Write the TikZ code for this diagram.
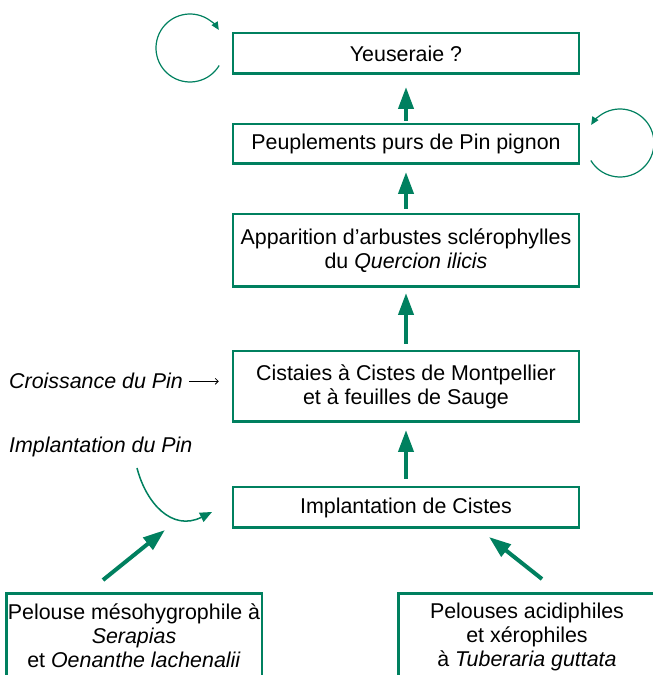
\documentclass[tikz,border=0pt]{standalone}
\usepackage{fontspec}
\setmainfont{Liberation Sans}
\usetikzlibrary{arrows.meta}
\definecolor{vert}{HTML}{00805F}
\begin{document}
\begin{tikzpicture}[x=1pt,y=1pt,
  box/.style={draw=vert, line width=2.5pt, minimum width=346, inner sep=0pt, align=center, font=\fontsize{21.4}{24}\selectfont},
  txt/.style={inner sep=0pt, align=center, font=\fontsize{21.4}{24}\selectfont},
  itxt/.style={inner sep=0pt, font=\fontsize{21.4}{24}\selectfont\itshape},
  bigarrow/.style={draw=vert, line width=4pt, -{Triangle[width=15pt,length=22pt]}},
  looparrow/.style={draw=vert, line width=1.2pt, -{Triangle[width=7pt,length=8pt]}},
  curvearrow/.style={draw=vert, line width=1.5pt, -{Triangle[width=10pt,length=12pt]}},
  thinarrow/.style={draw=black, line width=0.8pt, -{Straight Barb[length=3pt,width=6pt]}},
]
\useasboundingbox (0,0) rectangle (653,675);
% main chain
\node[box, minimum height=40.5] (yeu) at (406,621.5) {Yeuseraie ?};
\node[box, minimum height=39.5] (peu) at (406,531) {Peuplements purs de Pin pignon};
\node[box, minimum height=72.5] (app) at (406,424.5) {Apparition d’arbustes sclérophylles\\du \textit{Quercion ilicis}};
\node[box, minimum height=70.5] (cis) at (406,288.5) {Cistaies à Cistes de Montpellier\\et à feuilles de Sauge};
\node[box, minimum height=40.5] (imp) at (406,167.5) {Implantation de Cistes};
% bottom boxes
\node[box, minimum width=255.5, minimum height=100, anchor=north] (meso) at (134,82.75) {};
\node[txt] (mesot) at (134,39) {Pelouse mésohygrophile à\\\textit{Serapias}\\et \textit{Oenanthe lachenalii}};
\node[box, minimum width=257.5, minimum height=100, anchor=north] (acid) at (527,82.75) {};
\node[txt] (acidt) at (527,38) {Pelouses acidiphiles\\et xérophiles\\à \textit{Tuberaria guttata}};
% vertical arrows
\draw[bigarrow, shorten <=2pt, shorten >=12pt] (peu) -- (yeu);
\draw[bigarrow, shorten <=4pt, shorten >=7pt] (app) -- (peu);
\draw[bigarrow, shorten <=6pt, shorten >=5pt] (cis) -- (app);
\draw[bigarrow, shorten <=7pt, shorten >=7pt] (imp) -- (cis);
% diagonal arrows
\coordinate (m0) at (103,95);
\coordinate (m1) at (165,145);
\coordinate (a0) at (542,96);
\coordinate (a1) at (489,138);
\draw[bigarrow] (m0) -- (m1);
\draw[bigarrow] (a0) -- (a1);
% side labels
\node[itxt, anchor=base west] (cro) at (9,286) {Croissance du Pin};
\draw[thinarrow, shorten <=6pt, shorten >=13pt] (cro.east) -- (cro.east -| cis.west);
\node[itxt, anchor=base west] (ipin) at (9,222) {Implantation du Pin};
\coordinate (c0) at (137,207);
\coordinate (c1) at (212,163);
\draw[curvearrow] (c0) .. controls (146,172) and (172,143) .. (c1);
% loops
\coordinate (lc1) at (190,627);
\draw[looparrow] ([shift={(-31:34)}]lc1) arc[start angle=-31, end angle=-328, radius=34];
\coordinate (lc2) at (620,532);
\draw[looparrow] ([shift={(-149:34)}]lc2) arc[start angle=-149, end angle=148, radius=34];
\end{tikzpicture}
\end{document}
